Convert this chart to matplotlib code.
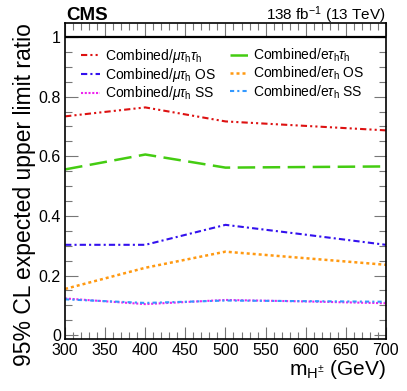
import matplotlib
matplotlib.use('Agg')
import matplotlib.pyplot as plt
from matplotlib.ticker import MultipleLocator

plt.rcParams['font.family'] = ['Liberation Sans', 'DejaVu Sans']
plt.rcParams['mathtext.fontset'] = 'custom'
plt.rcParams['mathtext.rm'] = 'Liberation Sans'
plt.rcParams['mathtext.it'] = 'Liberation Sans:italic'
plt.rcParams['mathtext.bf'] = 'Liberation Sans:bold'

# masses (GeV)
masses = [300, 400, 500, 600, 700]

# expected limit ratios
mu_tautau = [0.734, 0.764, 0.717, 0.702, 0.687]
e_tautau = [0.556, 0.606, 0.562, 0.564, 0.566]
mu_tau_os = [0.303, 0.303, 0.370, 0.337, 0.303]
e_tau_os = [0.155, 0.226, 0.280, 0.258, 0.236]
mu_tau_ss = [0.123, 0.104, 0.118, 0.113, 0.107]
e_tau_ss = [0.120, 0.108, 0.116, 0.114, 0.112]

labels = [
    r'Combined/$\mu\tau_{\rm h}\tau_{\rm h}$',
    r'Combined/$\mu\tau_{\rm h}$ OS',
    r'Combined/$\mu\tau_{\rm h}$ SS',
    r'Combined/e$\tau_{\rm h}\tau_{\rm h}$',
    r'Combined/e$\tau_{\rm h}$ OS',
    r'Combined/e$\tau_{\rm h}$ SS',
]

fig = plt.figure(figsize=(4.07, 3.91), dpi=100)
ax = fig.add_axes([0.160, 0.133, 0.788, 0.808])

ax.axhline(1.0, color='black', linewidth=1.6)

ax.plot(masses, mu_tautau, color='#dd1111', lw=1.5, ls=(0, (3, 1.5, 1, 1.5, 1, 1.5)), label=labels[0])
ax.plot(masses, mu_tau_os, color='#3311ee', lw=1.5, ls=(0, (3, 1.5, 1, 1.5)), label=labels[1])
ax.plot(masses, mu_tau_ss, color='#ee22ee', lw=1.5, ls=(0, (1, 0.8)), label=labels[2])
ax.plot(masses, e_tautau, color='#44cc11', lw=1.8, ls=(0, (7, 3)), label=labels[3])
ax.plot(masses, e_tau_os, color='#ff9911', lw=1.8, ls=(0, (1.2, 1.2)), label=labels[4])
ax.plot(masses, e_tau_ss, color='#3399ff', lw=1.5, ls=(0, (2, 1.5, 1, 1.5)), label=labels[5])

ax.set_xlim(300, 700)
ax.set_ylim(-0.013, 1.047)
ax.xaxis.set_major_locator(MultipleLocator(50))
ax.xaxis.set_minor_locator(MultipleLocator(10))
ax.yaxis.set_minor_locator(MultipleLocator(0.05))
ax.set_yticks([0, 0.2, 0.4, 0.6, 0.8, 1.0])
ax.set_yticklabels(['0', '0.2', '0.4', '0.6', '0.8', '1'])
ax.tick_params(which='both', direction='in', top=True, right=True, labelsize=11.5, pad=3)
ax.tick_params(which='major', length=9, width=0.8, color='#777777')
ax.tick_params(which='minor', length=5, width=0.8, color='#777777')
for sp in ax.spines.values():
    sp.set_linewidth(1.2)

ax.set_ylabel('95% CL expected upper limit ratio', fontsize=16.5, loc='top', labelpad=2)
ax.set_xlabel(r'm$_{\rm H^{\pm}}$ (GeV)', fontsize=15, loc='right', labelpad=0)

handles, labs = ax.get_legend_handles_labels()
ax.legend(handles, labs, ncol=2, frameon=False, fontsize=10, loc='upper left',
          bbox_to_anchor=(0.05, 0.925), handlelength=1.35, handletextpad=0.35,
          columnspacing=1.0, labelspacing=0.06, borderaxespad=0, borderpad=0)

fig.text(0.162, 0.949, 'CMS', fontsize=13.5, fontweight='bold', ha='left', va='baseline')
fig.text(0.948, 0.949, r'138 fb$^{-1}$ (13 TeV)', fontsize=11, ha='right', va='baseline')

fig.savefig('out.png', dpi=100)
